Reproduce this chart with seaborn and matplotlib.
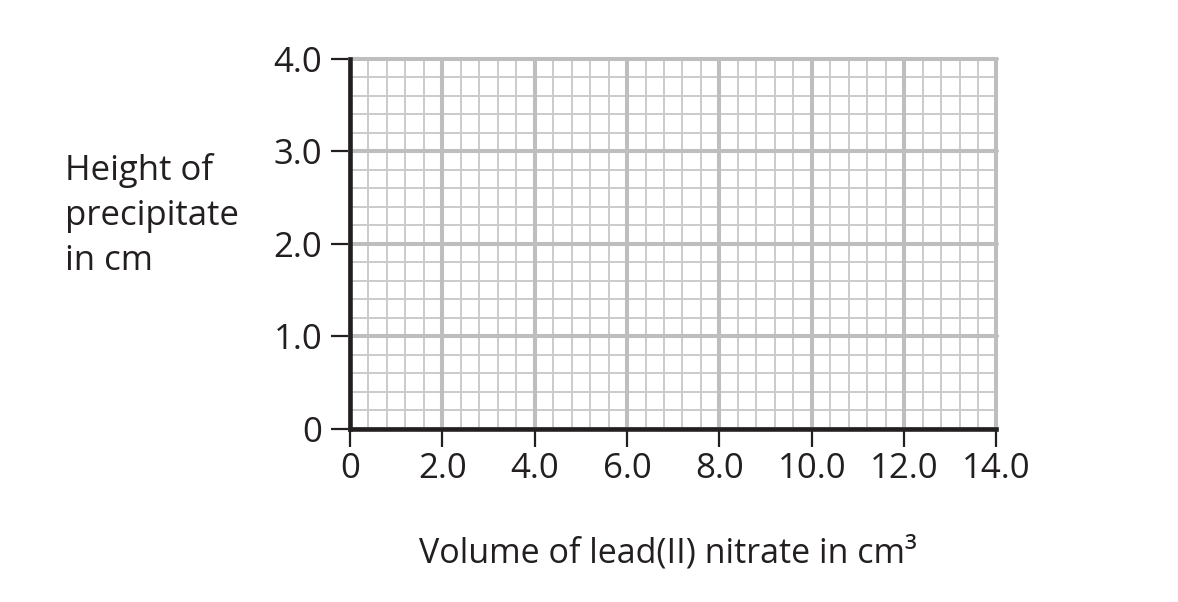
import matplotlib
matplotlib.use("Agg")
import matplotlib.pyplot as plt
from matplotlib.ticker import MultipleLocator, FixedLocator
import seaborn as sns

# ---- data ----
x_ticks = [0, 2, 4, 6, 8, 10, 12, 14]
x_tick_labels = ["0", "2.0", "4.0", "6.0", "8.0", "10.0", "12.0", "14.0"]
y_ticks = [0, 1, 2, 3, 4]
y_tick_labels = ["0", "1.0", "2.0", "3.0", "4.0"]
x_minor_step = 0.4
y_minor_step = 0.2
x_label = "Volume of lead(II) nitrate in cm³"
y_label = "Height of\nprecipitate\nin cm"

# ---- style ----
sns.set_theme(style="white")
plt.rcParams["font.family"] = ["Open Sans", "DejaVu Sans"]

ink = "#231f20"
major_grey = "#bebebe"
minor_grey = "#cbcbcb"

W, H = 1178, 602
fig = plt.figure(figsize=(W / 100, H / 100), dpi=100)
ax_left, ax_right = 350, 996.5
ax_top, ax_bottom = 59, 428.7
ax = fig.add_axes([ax_left / W, (H - ax_bottom) / H,
                   (ax_right - ax_left) / W, (ax_bottom - ax_top) / H])

ax.set_xlim(x_ticks[0], x_ticks[-1])
ax.set_ylim(y_ticks[0], y_ticks[-1])

ax.xaxis.set_major_locator(FixedLocator(x_ticks))
ax.yaxis.set_major_locator(FixedLocator(y_ticks))
ax.set_xticklabels(x_tick_labels)
ax.set_yticklabels(y_tick_labels)
ax.xaxis.set_minor_locator(MultipleLocator(x_minor_step))
ax.yaxis.set_minor_locator(MultipleLocator(y_minor_step))

ax.set_axisbelow(True)
ax.grid(False, which="major")
ax.grid(True, which="minor", color=minor_grey, lw=1.4)

for xv in x_ticks:
    ax.axvline(xv, color=major_grey, lw=2.9, zorder=1.5, clip_on=False)
for yv in y_ticks:
    ax.axhline(yv, color=major_grey, lw=2.9, zorder=1.5, clip_on=False)

sns.despine(ax=ax, top=True, right=True)
for side in ("left", "bottom"):
    ax.spines[side].set_color(ink)
    ax.spines[side].set_linewidth(3.3)
    ax.spines[side].set_zorder(3)

ax.tick_params(axis="both", which="minor", length=0)
ax.tick_params(axis="y", which="major", direction="out", length=14, width=1.6,
               color=ink, labelcolor=ink, labelsize=25, pad=6, left=True)
ax.tick_params(axis="x", which="major", direction="out", length=13, width=1.6,
               color=ink, labelcolor=ink, labelsize=25, pad=4, bottom=True)

ax.set_xlabel(x_label, fontsize=24.5, color=ink, ha="center", va="baseline")
ax.xaxis.set_label_coords((668 - ax_left) / (ax_right - ax_left),
                          (ax_bottom - 562) / (ax_bottom - ax_top))
ax.set_ylabel(y_label, fontsize=25, color=ink, rotation=0, ha="left",
              va="top", multialignment="left", linespacing=1.42)
ax.yaxis.set_label_coords((65 - ax_left) / (ax_right - ax_left),
                          (ax_bottom - 153) / (ax_bottom - ax_top))

fig.savefig("out.png", dpi=100, facecolor="white")
